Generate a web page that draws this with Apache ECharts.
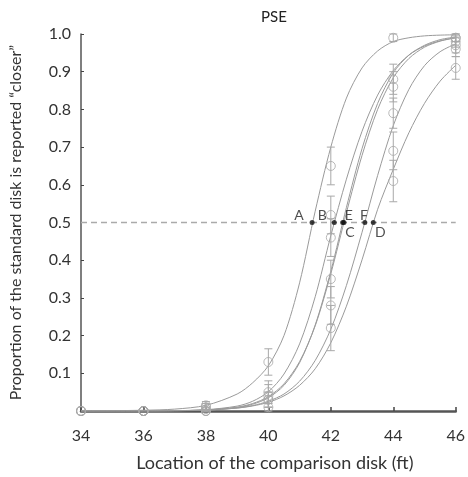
<!DOCTYPE html>
<html>
<head>
<meta charset="utf-8">
<script src="https://cdn.jsdelivr.net/npm/echarts@6/dist/echarts.min.js"></script>
<style>html,body{margin:0;padding:0;background:#fff}#c{width:468px;height:477px}</style>
</head>
<body>
<div id="c"></div>
<script>
// Observed data (location in ft, proportion "closer")
var locations = [34, 36, 38, 40, 42, 44, 46];
var obsA = [0, 0, 0.015, 0.13, 0.65, 0.99, 0.99];
var obsB = [0, 0, 0.01, 0.05, 0.52, 0.88, 0.99];
var obsE = [0, 0, 0.005, 0.04, 0.46, 0.86, 0.98];
var obsC = [0, 0, 0, 0.03, 0.35, 0.79, 0.97];
var obsF = [0, 0, 0, 0.03, 0.28, 0.69, 0.96];
var obsD = [0, 0, 0, 0.01, 0.22, 0.61, 0.91];
var errA = [0, 0, 0.01, 0.035, 0.05, 0.01, 0.01];
var errB = [0, 0, 0.01, 0.03, 0.05, 0.04, 0.01];
var errE = [0, 0, 0.005, 0.03, 0.05, 0.04, 0.015];
var errC = [0, 0, 0, 0.02, 0.05, 0.04, 0.02];
var errF = [0, 0, 0, 0.02, 0.05, 0.05, 0.02];
var errD = [0, 0, 0, 0.01, 0.06, 0.055, 0.03];

// Fitted curves
var curveX = [34, 36, 37, 38, 39, 39.5, 40, 40.5, 41, 41.5, 42, 42.5, 43, 43.5, 44, 44.5, 45, 45.5, 46];
var fitA = [0, 0.002, 0.005, 0.015, 0.045, 0.075, 0.12, 0.2, 0.34, 0.53, 0.70, 0.83, 0.91, 0.955, 0.98, 0.99, 0.995, 0.997, 0.998];
var fitB = [0, 0.0002, 0.0008, 0.0034, 0.013, 0.026, 0.051, 0.098, 0.178, 0.303, 0.465, 0.615, 0.742, 0.838, 0.903, 0.944, 0.968, 0.982, 0.990];
var fitE = [0, 0.0001, 0.0005, 0.0023, 0.009, 0.018, 0.035, 0.068, 0.128, 0.228, 0.371, 0.54, 0.696, 0.816, 0.897, 0.944, 0.970, 0.985, 0.992];
var fitC = [0, 0.0002, 0.0007, 0.0028, 0.0103, 0.020, 0.038, 0.072, 0.131, 0.226, 0.364, 0.526, 0.678, 0.800, 0.884, 0.935, 0.965, 0.981, 0.990];
var fitF = [0, 0.0002, 0.0008, 0.0025, 0.008, 0.0145, 0.026, 0.045, 0.079, 0.134, 0.217, 0.333, 0.474, 0.625, 0.757, 0.853, 0.916, 0.953, 0.974];
var fitD = [0, 0.0003, 0.0009, 0.0026, 0.0078, 0.0135, 0.023, 0.040, 0.068, 0.112, 0.181, 0.278, 0.401, 0.535, 0.641, 0.738, 0.816, 0.875, 0.917];

// PSE points
var pseNames = ['A', 'B', 'E', 'C', 'F', 'D'];
var pseValues = [41.40, 42.11, 42.38, 42.42, 43.09, 43.36];
var pseLevel = 0.5;

var xTicks = [34, 36, 38, 40, 42, 44, 46];

var labelOffsets = {A: [-13, -7], B: [-12, -7], E: [6, -7], C: [6, 10], F: [-1, -7], D: [7, 10]};

var curveColor = '#9a9a9a';
var markColor = '#a8a8a8';
var font = 'Lato, "Open Sans", sans-serif';

function pairs(xs, ys) { return xs.map(function (x, i) { return [x, ys[i]]; }); }
function triples(xs, ys, es) { return xs.map(function (x, i) { return [x, ys[i], es[i]]; }); }

var fits = [fitA, fitB, fitE, fitC, fitF, fitD];
var obs = [obsA, obsB, obsE, obsC, obsF, obsD];
var errs = [errA, errB, errE, errC, errF, errD];

var series = [];
fits.forEach(function (f) {
  series.push({
    type: 'line', data: pairs(curveX, f), smooth: 0.3, showSymbol: false, silent: true,
    lineStyle: {color: curveColor, width: 1}, z: 2
  });
});
obs.forEach(function (o, k) {
  series.push({
    type: 'custom', data: triples(locations, o, errs[k]), z: 3, silent: true,
    renderItem: function (params, api) {
      var x = api.value(0), y = api.value(1), e = api.value(2);
      if (!e) return null;
      var t = api.coord([x, y + e]), b = api.coord([x, y - e]);
      var w = 4;
      var st = {stroke: markColor, lineWidth: 1};
      return {type: 'group', children: [
        {type: 'line', shape: {x1: t[0], y1: t[1], x2: b[0], y2: b[1]}, style: st},
        {type: 'line', shape: {x1: t[0] - w, y1: t[1], x2: t[0] + w, y2: t[1]}, style: st},
        {type: 'line', shape: {x1: b[0] - w, y1: b[1], x2: b[0] + w, y2: b[1]}, style: st}
      ]};
    }
  });
  series.push({
    type: 'scatter', data: pairs(locations, o), symbol: 'circle', symbolSize: 9, silent: true, z: 4,
    itemStyle: {color: 'rgba(255,255,255,0)', borderColor: markColor, borderWidth: 1}
  });
});
// dashed 0.5 line
series.push({
  type: 'line', data: [[34, pseLevel], [46, pseLevel]], showSymbol: false, silent: true, z: 1,
  lineStyle: {color: '#aaaaaa', width: 1.5, type: [6, 4]}
});
// PSE dots with labels
series.push({
  type: 'scatter', symbolSize: 5, z: 6, silent: true,
  itemStyle: {color: '#111'},
  data: pseValues.map(function (v, i) {
    return {value: [v, pseLevel], label: {show: true, formatter: pseNames[i], position: 'inside', offset: labelOffsets[pseNames[i]]}};
  }),
  label: {color: '#222', fontSize: 14, fontFamily: font}
});

var chart = echarts.init(document.getElementById('c'));
chart.setOption({
  animation: false,
  backgroundColor: '#fff',
  title: {text: 'PSE', left: 269, top: 5, textAlign: 'center',
    textStyle: {fontSize: 15, fontWeight: 'normal', color: '#222', fontFamily: font}},
  grid: {left: 81, right: 10, top: 34, bottom: 65},
  xAxis: {
    type: 'value', min: 34, max: 46, interval: 2,
    name: 'Location of the comparison disk (ft)', nameLocation: 'middle', nameGap: 43,
    nameTextStyle: {fontSize: 18, color: '#333', fontFamily: font, padding: [0, 0, 0, 13]},
    axisLine: {show: true, lineStyle: {color: '#555', width: 2.5}},
    axisTick: {show: true, inside: true, length: 4, lineStyle: {color: '#444', width: 1.5}},
    axisLabel: {fontSize: 16, color: '#333', margin: 17, fontFamily: font,
      formatter: function (v) { return xTicks.indexOf(v) >= 0 ? String(v) : ''; }},
    splitLine: {show: false}
  },
  yAxis: {
    type: 'value', min: 0, max: 1, interval: 0.1,
    name: 'Proportion of the standard disk is reported \u201ccloser\u201d', nameLocation: 'middle', nameGap: 57,
    nameTextStyle: {fontSize: 16, color: '#333', fontFamily: font},
    axisLine: {show: true, onZero: false, lineStyle: {color: '#555', width: 1.5}},
    axisTick: {show: true, inside: true, length: 3, lineStyle: {color: '#444', width: 1}},
    axisLabel: {fontSize: 16, color: '#333', margin: 10, fontFamily: font,
      formatter: function (v) { return v === 0 ? '' : v.toFixed(1); }},
    splitLine: {show: false}
  },
  series: series
});
</script>
</body>
</html>
